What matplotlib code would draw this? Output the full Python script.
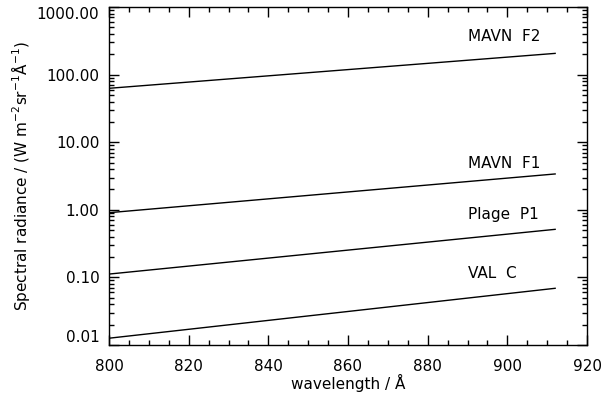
import matplotlib
matplotlib.use('Agg')
import matplotlib.pyplot as plt
from matplotlib.ticker import FixedLocator, LogLocator, MultipleLocator, FuncFormatter

# wavelength end points (Angstrom)
wave = [800, 912]

# spectral radiance at the end points
mavn_f2 = [62.7, 206.0]
mavn_f1 = [0.906, 3.39]
plage_p1 = [0.112, 0.514]
val_c = [0.0126, 0.069]

series = [mavn_f2, mavn_f1, plage_p1, val_c]
names = ['MAVN  F2', 'MAVN  F1', 'Plage  P1', 'VAL  C']
label_y = [372, 4.9, 0.84, 0.116]

plt.rcParams['font.family'] = ['DejaVu Sans']
fig = plt.figure(figsize=(6.03, 3.98), dpi=100)
ax = fig.add_axes([109 / 603, 1 - 345 / 398, 478 / 603, 338 / 398])

for s in series:
    ax.plot(wave, s, color='black', lw=1.0)

for n, yv in zip(names, label_y):
    ax.text(890, yv, n, fontsize=11, ha='left', va='center')

ax.set_yscale('log')
ax.set_xlim(800, 920)
ax.set_ylim(0.01, 1000)

ax.xaxis.set_major_locator(MultipleLocator(20))
ax.xaxis.set_minor_locator(MultipleLocator(5))
ax.yaxis.set_major_locator(FixedLocator([0.01, 0.1, 1, 10, 100, 1000]))
ax.yaxis.set_minor_locator(LogLocator(base=10, subs=range(2, 10)))
ax.yaxis.set_major_formatter(FuncFormatter(lambda v, p: '%.2f' % v))

ax.tick_params(which='both', direction='in', top=True, right=True, labelsize=11, width=1)
ax.tick_params(which='major', length=7)
ax.tick_params(which='minor', length=3.5)
ax.tick_params(axis='x', which='major', pad=10)
ax.tick_params(axis='y', which='major', pad=7)
for sp in ax.spines.values():
    sp.set_linewidth(1.0)

ax.set_xlabel('wavelength / Å', fontsize=11, labelpad=0)
ax.set_ylabel(r'Spectral radiance / (W m$^{-2}$sr$^{-1}$Å$^{-1}$)', fontsize=11, labelpad=3)

# IDL style: end labels kept inside the axis range
fig.canvas.draw()
ylabs = ax.get_yticklabels()
ylabs[0].set_va('bottom')
ylabs[-1].set_va('top')

fig.savefig('out.png', dpi=100)
